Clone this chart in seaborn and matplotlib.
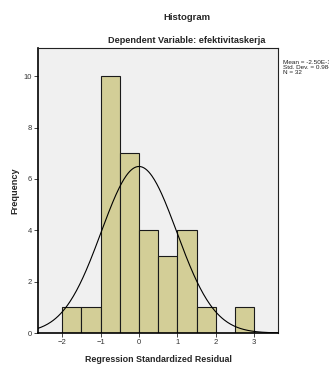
import numpy as np
import matplotlib
matplotlib.use("Agg")
import matplotlib.pyplot as plt
import seaborn as sns

# histogram data
bin_edges = [-2.0, -1.5, -1.0, -0.5, 0.0, 0.5, 1.0, 1.5, 2.0, 2.5, 3.0]
counts = [1, 1, 10, 7, 4, 3, 4, 1, 0, 1]
mean = 0.0
std_dev = 0.984
n_obs = 32
x_ticks = [-2, -1, 0, 1, 2, 3]
y_ticks = [0, 2, 4, 6, 8, 10]

sns.set_style("white")
plt.rcParams['font.family'] = ['Liberation Sans', 'DejaVu Sans']

centers = [(a + b) / 2 for a, b in zip(bin_edges[:-1], bin_edges[1:])]

fig = plt.figure(figsize=(3.29, 3.67), dpi=100)
ax = fig.add_axes([0.1155, 0.0926, 0.7295, 0.7765])
ax.set_facecolor("#F0F0F0")

sns.histplot(x=centers, weights=counts, bins=bin_edges, ax=ax,
             color="#D3CE97", alpha=1, edgecolor="#1a1a1a", linewidth=0.8)

# normal curve from mean / std dev
xs = np.linspace(-2.63, 3.62, 300)
bw = bin_edges[1] - bin_edges[0]
ys = n_obs * bw / (std_dev * np.sqrt(2 * np.pi)) * np.exp(-0.5 * ((xs - mean) / std_dev) ** 2)
sns.lineplot(x=xs, y=ys, ax=ax, color="black", linewidth=0.8)

ax.set_xlim(-2.63, 3.62)
ax.set_ylim(0, 11.1)
ax.set_xticks(x_ticks)
ax.set_yticks(y_ticks)
ax.tick_params(axis="both", labelsize=5.5, labelcolor="#333333", length=3, width=0.6,
               direction="out", pad=1.5, bottom=True, left=True)
for side in ["left", "bottom"]:
    ax.spines[side].set_linewidth(1.2)
    ax.spines[side].set_color("black")
for side in ["top", "right"]:
    ax.spines[side].set_linewidth(0.8)
    ax.spines[side].set_color("#222222")

ax.set_xlabel("Regression Standardized Residual", fontsize=6.4, fontweight="bold", labelpad=6)
ax.set_ylabel("Frequency", fontsize=6.6, fontweight="bold", labelpad=3)

fig.text(0.567, 0.953, "Histogram", ha="center", va="center", fontsize=6.8, fontweight="bold")
fig.text(0.566, 0.891, "Dependent Variable: efektivitaskerja", ha="center", va="center",
         fontsize=6.6, fontweight="bold")
fig.text(0.86, 0.836, "Mean = -2.50E-16\nStd. Dev. = 0.984\nN = 32", ha="left", va="top",
         fontsize=4.6, linespacing=0.95, color="#222222",
         family=["Liberation Sans Narrow", "Liberation Sans"])

fig.savefig("out.png", dpi=100)
